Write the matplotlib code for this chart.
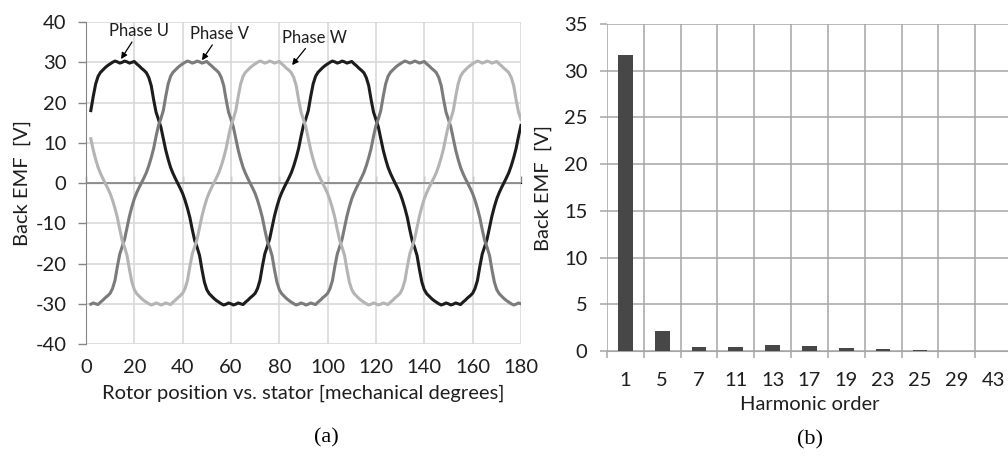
import numpy as np
import matplotlib
matplotlib.use("Agg")
from matplotlib import pyplot as plt

# one electrical period (90 mechanical degrees) of phase U back EMF, 1 deg steps, x = 0..89
u_period = [14.3, 16.0, 18.0, 21.5, 24.6, 26.5, 27.5, 28.1, 28.7, 29.2,
            29.6, 30.0, 30.3, 30.1, 29.8, 30.0, 30.3, 30.1, 29.8, 30.0,
            30.2, 29.6, 29.1, 28.5, 28.0, 27.4, 26.2, 24.2, 20.7, 17.6,
            15.8, 13.9, 11.0, 8.2, 5.9, 3.9, 2.4, 1.1, -0.1, -1.3,
            -2.6, -4.3, -6.3, -8.6, -11.6, -14.3, -16.0, -18.0, -21.5, -24.6,
            -26.5, -27.5, -28.1, -28.7, -29.2, -29.6, -30.0, -30.3, -30.1, -29.8,
            -30.0, -30.3, -30.1, -29.8, -30.0, -30.2, -29.6, -29.1, -28.5, -28.0,
            -27.4, -26.2, -24.2, -20.7, -17.6, -15.8, -13.9, -11.0, -8.2, -5.9,
            -3.9, -2.4, -1.1, 0.1, 1.3, 2.6, 4.3, 6.3, 8.6, 11.6]
phase_shift = 30  # mechanical degrees between phases
rotor_pos = np.arange(2, 181)

harmonic_order = ['1', '5', '7', '11', '13', '17', '19', '23', '25', '29', '43']
harmonic_emf = [31.7, 2.1, 0.4, 0.4, 0.6, 0.5, 0.3, 0.2, 0.08, 0.05, 0.03]

u_period = np.array(u_period)
emf_u = u_period[rotor_pos % 90]
emf_v = u_period[(rotor_pos - phase_shift) % 90]
emf_w = u_period[(rotor_pos + phase_shift) % 90]

plt.rcParams['font.family'] = ['Lato', 'DejaVu Sans']
plt.rcParams['axes.unicode_minus'] = False
txt = '#1e1e1e'
fs = 14.5

fig = plt.figure(figsize=(10.08, 4.59), dpi=100)

# (a) back EMF waveforms
ax1 = fig.add_axes([0.0853, 0.2505, 0.4315, 0.7015])
ax1.plot(rotor_pos, emf_u, color='#1c1c1c', lw=2.2, zorder=3)
ax1.plot(rotor_pos, emf_v, color='#7b7b7b', lw=2.2, zorder=3)
ax1.plot(rotor_pos, emf_w, color='#b4b4b4', lw=2.2, zorder=3)
ax1.set_xlim(0, 180)
ax1.set_ylim(-40, 40)
ax1.set_xticks(range(0, 181, 20))
ax1.set_yticks(range(-40, 41, 10))
ax1.grid(True, color='#d9d9d9', lw=1.2)
ax1.set_axisbelow(True)
for s in ['top', 'right', 'bottom']:
    ax1.spines[s].set_visible(False)
ax1.spines['left'].set_color('#868686')
ax1.tick_params(axis='y', length=6, width=1, color='#868686', pad=8, labelsize=fs, labelcolor=txt)
ax1.tick_params(axis='x', length=0, pad=11, labelsize=fs, labelcolor=txt)
ax1.axhline(0, color='#868686', lw=1.2, zorder=2)
sec = ax1.secondary_xaxis(0.5)
sec.set_xticks(range(0, 181, 20))
sec.set_xticklabels([])
sec.spines['bottom'].set_visible(False)
sec.tick_params(axis='x', length=5, width=1, color='#868686', direction='out')
ax1.set_xlabel('Rotor position vs. stator [mechanical degrees]', fontsize=fs, color=txt, labelpad=6)
ax1.set_ylabel('Back EMF  [V]', fontsize=fs, color=txt, labelpad=3)

arrow = dict(arrowstyle='-|>', color='black', lw=0.9, mutation_scale=9, shrinkA=0, shrinkB=0)
ax1.annotate('Phase U', xy=(14.5, 30.8), xytext=(21.9, 37.7), ha='center', va='center',
             fontsize=12, color=txt, arrowprops=arrow)
ax1.annotate('Phase V', xy=(48.0, 30.5), xytext=(55.3, 37.0), ha='center', va='center',
             fontsize=12, color=txt, arrowprops=arrow)
ax1.annotate('Phase W', xy=(85.3, 29.3), xytext=(94.4, 36.1), ha='center', va='center',
             fontsize=12, color=txt, arrowprops=arrow)

# (b) harmonic spectrum
ax2 = fig.add_axes([0.6022, 0.2353, 0.4017, 0.7124])
pos = np.arange(len(harmonic_order))
ax2.bar(pos, harmonic_emf, width=0.4, color='#474748', zorder=3)
ax2.set_xlim(-0.5, len(harmonic_order) - 0.5)
ax2.set_ylim(0, 35)
ax2.set_yticks(range(0, 36, 5))
ax2.set_xticks(pos - 0.5)
ax2.set_xticklabels([])
ax2.set_xticks(pos, minor=True)
ax2.set_xticklabels(harmonic_order, minor=True)
ax2.grid(True, which='major', color='#a6a6a6', lw=1.1)
ax2.set_axisbelow(True)
for s in ['top', 'right', 'left']:
    ax2.spines[s].set_visible(False)
ax2.spines['bottom'].set_color('#a6a6a6')
ax2.tick_params(axis='y', length=5, width=1.1, color='#a6a6a6', pad=9, labelsize=fs, labelcolor=txt)
ax2.tick_params(axis='x', which='major', length=5, width=1.1, color='#a6a6a6')
ax2.tick_params(axis='x', which='minor', length=0, pad=15, labelsize=fs, labelcolor=txt)
ax2.set_xlabel('Harmonic order', fontsize=fs, color=txt, labelpad=5)
ax2.set_ylabel('Back EMF  [V]', fontsize=fs, color=txt, labelpad=9)

fig.text(0.324, 0.046, '(a)', family='Liberation Serif', fontsize=16, ha='center', va='center', color='black')
fig.text(0.804, 0.041, '(b)', family='Liberation Serif', fontsize=16, ha='center', va='center', color='black')

fig.savefig('out.png', dpi=100)
